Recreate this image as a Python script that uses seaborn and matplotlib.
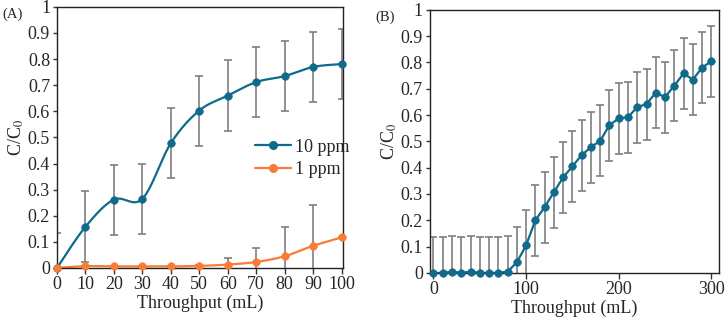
import numpy as np
import pandas as pd
import seaborn as sns
import matplotlib.pyplot as plt

# panel A data
xa = [0, 10, 20, 30, 40, 50, 60, 70, 80, 90, 100]
ppm10 = [0.0, 0.158, 0.262, 0.265, 0.478, 0.603, 0.66, 0.712, 0.735, 0.77, 0.781]
ppm10_err = [0.135, 0.135, 0.134, 0.135, 0.135, 0.134, 0.135, 0.134, 0.135, 0.135, 0.134]
ppm1 = [0.0, 0.007, 0.006, 0.006, 0.006, 0.008, 0.013, 0.023, 0.045, 0.085, 0.117]
ppm1_err = [0.0, 0.002, 0.002, 0.002, 0.002, 0.003, 0.024, 0.055, 0.113, 0.158, 0.0]

# panel B data
xb = list(range(0, 301, 10))
yb = [0.0, 0.0, 0.005, 0.0, 0.005, 0.0, 0.0, 0.0, 0.005, 0.04, 0.105,
      0.2, 0.25, 0.307, 0.363, 0.405, 0.448, 0.478, 0.502, 0.562, 0.587,
      0.592, 0.63, 0.642, 0.685, 0.668, 0.712, 0.758, 0.735, 0.78, 0.805]
yb_err = [0.135] * 31

blue = '#0f6a8b'
orange = '#f97b35'
grey = '#7f7f7f'

sns.set_style('white')
plt.rcParams['font.family'] = ['Liberation Serif', 'DejaVu Serif']
plt.rcParams['mathtext.fontset'] = 'stix'


def smooth(x, y, n=30):
    # catmull-rom style smoothing like excel's smoothed line
    x = np.asarray(x, float)
    y = np.asarray(y, float)
    px = np.concatenate([[x[0]], x, [x[-1]]])
    py = np.concatenate([[y[0]], y, [y[-1]]])
    ox, oy = [], []
    for i in range(1, len(px) - 2):
        t = np.linspace(0, 1, n)
        for p, out in ((px, ox), (py, oy)):
            p0, p1, p2, p3 = p[i - 1], p[i], p[i + 1], p[i + 2]
            c1 = p1 + (p2 - p0) / 6
            c2 = p2 - (p3 - p1) / 6
            out.extend((1 - t) ** 3 * p1 + 3 * (1 - t) ** 2 * t * c1
                       + 3 * (1 - t) * t ** 2 * c2 + t ** 3 * p2)
    return pd.DataFrame({'x': ox, 'y': oy})


fig = plt.figure(figsize=(7.26, 3.28), dpi=100)
axA = fig.add_axes([0.0785, 0.183, 0.394, 0.796])
axB = fig.add_axes([0.592, 0.168, 0.398, 0.802])

# panel A
axA.errorbar(xa, ppm10, yerr=ppm10_err, fmt='none', ecolor=grey, elinewidth=1.2,
             capsize=3, capthick=1.2, zorder=1)
axA.errorbar(xa, ppm1, yerr=ppm1_err, fmt='none', ecolor=grey, elinewidth=1.2,
             capsize=3, capthick=1.2, zorder=1)
sns.lineplot(data=smooth(xa, ppm10), x='x', y='y', ax=axA, color=blue, lw=1.6,
             sort=False, estimator=None, zorder=2)
sns.lineplot(data=smooth(xa, ppm1), x='x', y='y', ax=axA, color=orange, lw=1.6,
             sort=False, estimator=None, zorder=2)
sns.scatterplot(x=xa, y=ppm10, ax=axA, color=blue, s=30, edgecolor=blue,
                zorder=3, clip_on=False)
sns.scatterplot(x=xa, y=ppm1, ax=axA, color=orange, s=30, edgecolor=orange,
                zorder=3, clip_on=False)
axA.plot([], [], color=blue, marker='o', ms=5.5, lw=1.6, label='10 ppm')
axA.plot([], [], color=orange, marker='o', ms=5.5, lw=1.6, label='1 ppm')
axA.legend(loc='upper left', bbox_to_anchor=(0.66, 0.53), frameon=False,
           fontsize=13, handlelength=2.0, handletextpad=0.2, labelspacing=0.3,
           borderpad=0)
axA.set_xlim(0, 100.5)
axA.set_xticks(xa)

# panel B
axB.errorbar(xb, yb, yerr=yb_err, fmt='none', ecolor=grey, elinewidth=1.2,
             capsize=3, capthick=1.2, zorder=1)
sns.lineplot(x=xb, y=yb, ax=axB, color=blue, lw=1.6, zorder=2)
sns.scatterplot(x=xb, y=yb, ax=axB, color=blue, s=30, edgecolor=blue,
                zorder=3, clip_on=False)
axB.set_xlim(-4, 308)
axB.set_xticks([0, 100, 200, 300])

for ax, tag in ((axA, '(A)'), (axB, '(B)')):
    ax.set_ylim(0, 1)
    ax.set_yticks(np.arange(0, 1.01, 0.1))
    ax.set_yticklabels(['0'] + ['%.1f' % v for v in np.arange(0.1, 0.95, 0.1)] + ['1'])
    ax.set_xlabel('Throughput (mL)', fontsize=13, labelpad=1)
    ax.set_ylabel('C/C$_0$', fontsize=13, labelpad=1)
    ax.tick_params(axis='x', direction='out', length=4, width=1, color='#333333',
                   labelsize=13, pad=2, bottom=True)
    ax.tick_params(axis='y', direction='out', length=3, width=1, color='#333333',
                   labelsize=13, pad=2, left=True)
    for s in ax.spines.values():
        s.set_color('#222222')
        s.set_linewidth(1.0)
    ax.text(-0.19, 0.97, tag, transform=ax.transAxes, fontsize=10.5, va='center')

fig.savefig('out.png', dpi=100)
